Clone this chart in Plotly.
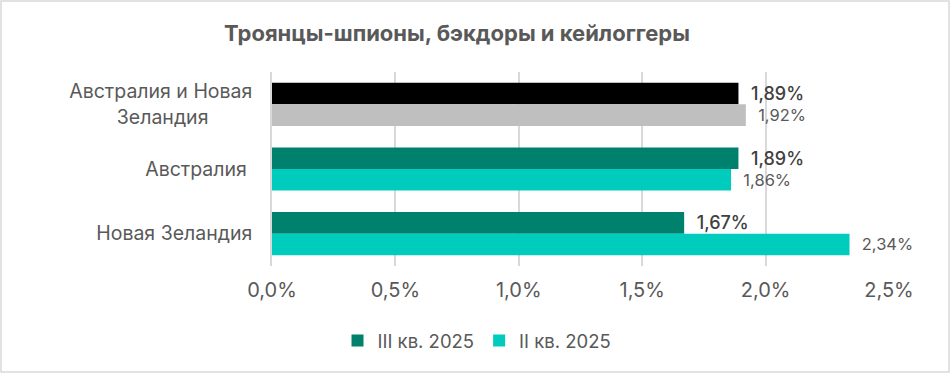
import plotly.graph_objects as go

# Data (shares, as fractions)
cat_both = "Австралия и Новая<br>Зеландия" + " " * 8
cat_au = "Австралия "
cat_nz = "Новая Зеландия"
categories = [cat_nz, cat_au, cat_both]
display_order = [cat_both, cat_au, cat_nz]
q3_values = [0.0167, 0.0189, 0.0189]
q2_values = [0.0234, 0.0186, 0.0192]
series_names = ["III кв. 2025", "II кв. 2025"]
x_ticks = [0, 0.005, 0.010, 0.015, 0.020, 0.025]

# Styles
q3_colors = ["#00816D", "#00816D", "#000000"]
q2_colors = ["#00CCBE", "#00CCBE", "#BFBFBF"]
FONT = "Inter"
W, H = 951, 374
ML, MR, MT, MB = 272, 62, 72, 108

fig = go.Figure()
fig.add_trace(go.Bar(
    y=categories, x=q3_values, name=series_names[0], orientation="h",
    marker=dict(color=q3_colors, line=dict(width=0)),
    texttemplate="  %{x:.2%}", textposition="outside", constraintext="none",
    textfont=dict(family=FONT, size=18, color="#404040", weight=500),
    cliponaxis=False,
))
fig.add_trace(go.Bar(
    y=categories, x=q2_values, name=series_names[1], orientation="h",
    marker=dict(color=q2_colors, line=dict(width=0)),
    texttemplate="  %{x:.2%}", textposition="outside", constraintext="none",
    textfont=dict(family=FONT, size=16.5, color="#595959"),
    cliponaxis=False,
))

pw = W - ML - MR
ph = H - MT - MB
fig.add_shape(type="rect", xref="paper", yref="paper",
              x0=(-ML + 1) / pw, x1=(W - ML - 2) / pw,
              y0=(-MB + 2) / ph, y1=(H - MB - 1) / ph,
              line=dict(color="#D9D9D9", width=1.5), fillcolor="rgba(0,0,0,0)", layer="below")

fig.update_layout(
    width=W, height=H,
    margin=dict(l=ML, r=MR, t=MT, b=MB, pad=0),
    paper_bgcolor="white", plot_bgcolor="white",
    separators=", ",
    barmode="group", bargap=0.333, bargroupgap=0,
    title=dict(text="<b>Троянцы-шпионы, бэкдоры и кейлоггеры</b>",
               font=dict(family=FONT, size=22, color="#595959"),
               x=457 / W, xref="container", xanchor="center",
               y=1 - 33 / H, yref="container", yanchor="middle"),
    xaxis=dict(range=[0, 0.025], tickvals=x_ticks, tickformat=".1%",
               showgrid=True, gridcolor="#D9D9D9", gridwidth=1.5,
               zeroline=False, showline=False, ticks="",
               tickfont=dict(family=FONT, size=20, color="#595959"),
               ticklabelstandoff=10, fixedrange=True),
    yaxis=dict(categoryorder="array", categoryarray=display_order, autorange="reversed",
               showline=True, linecolor="#D9D9D9", linewidth=1.5, ticks="",
               tickfont=dict(family=FONT, size=19.5, color="#595959"),
               ticklabelstandoff=14, fixedrange=True),
    legend=dict(orientation="h", xref="container", x=477 / W, xanchor="center",
                yref="container", y=1 - 341 / H, yanchor="middle",
                font=dict(family=FONT, size=18.5, color="#595959"),
                itemwidth=30, traceorder="normal"),
    showlegend=True,
)

fig.write_html(
    "out.html",
    config={"displayModeBar": False},
    post_script="document.body.style.margin='0';document.body.style.overflow='hidden';",
)
